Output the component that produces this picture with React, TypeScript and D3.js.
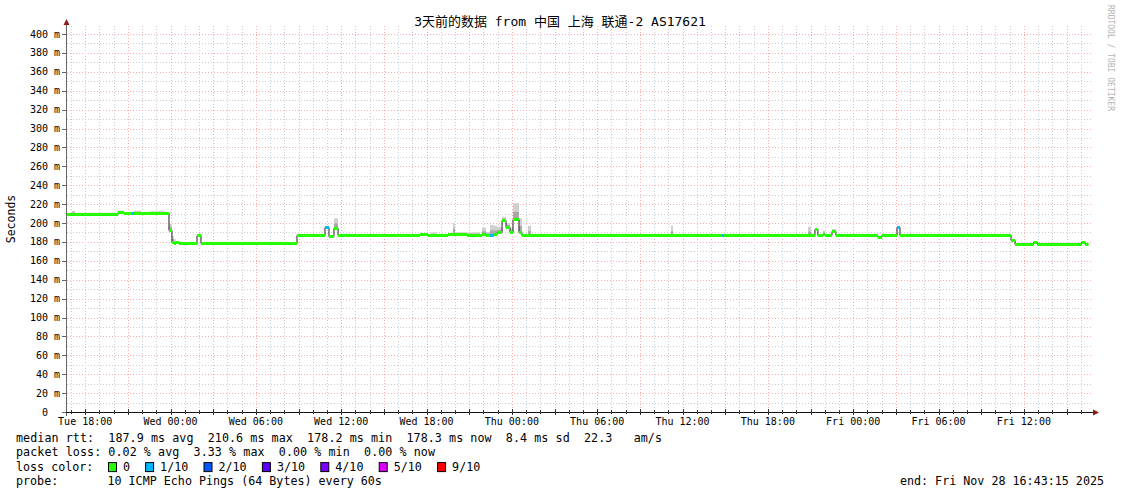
import React from "react";
import * as d3 from "d3";

// ---- data ----
const START = new Date(2025, 10, 25, 16, 43, 15);
const END = new Date(2025, 10, 28, 16, 43, 15);

// step start, in hours after START
const stepHours = [
  0.0, 0.35, 0.56, 3.59, 4.01, 4.57, 4.71, 5.2, 5.84, 6.89,
  7.17, 7.38, 7.52, 7.66, 7.88, 9.14, 9.42, 16.17, 18.14, 18.42,
  18.77, 19.06, 24.82, 25.38, 25.59, 26.02, 26.79, 27.14, 27.28, 28.13,
  29.04, 29.18, 29.46, 29.74, 30.02, 30.24, 30.59, 30.87, 31.15, 31.36,
  31.78, 31.99, 32.41, 32.63, 36.42, 36.56, 42.47, 42.61, 46.06, 46.2,
  52.1, 52.31, 52.59, 52.8, 53.15, 53.29, 53.79, 54.07, 57.02, 57.3,
  58.36, 58.57, 66.38, 66.66, 67.95, 68.23, 71.32, 71.6,
];
const lastHour = 71.82;

// median rtt in ms
const medianMs = [
  210.0, 210.0, 210.0, 211.2, 210.2, 210.2, 211.0, 211.0, 210.6, 210.6,
  193.0, 180.0, 178.5, 179.5, 178.6, 187.5, 178.6, 186.8, 195.4, 186.4,
  195.0, 186.8, 188.6, 186.8, 186.8, 186.8, 188.4, 188.4, 188.4, 187.6,
  187.0, 188.0, 187.5, 187.5, 188.0, 190.0, 203.0, 196.0, 190.0, 204.0,
  190.0, 186.8, 186.8, 186.8, 186.8, 186.8, 186.8, 186.8, 187.6, 186.8,
  186.8, 186.8, 193.6, 186.8, 188.8, 186.8, 192.0, 186.8, 185.6, 186.8,
  195.4, 186.8, 181.5, 178.3, 179.4, 178.3, 179.4, 178.3,
];

// packet loss (x/10)
const lossTenths = [
  0, 0, 0, 0, 0, 1, 0, 0, 0, 0,
  0, 0, 0, 0, 0, 0, 0, 0, 1, 0,
  0, 0, 0, 0, 0, 0, 0, 0, 0, 0,
  0, 0, 0, 1, 0, 0, 0, 0, 0, 0,
  0, 0, 0, 0, 0, 0, 0, 0, 1, 0,
  0, 0, 0, 0, 0, 0, 0, 0, 0, 0,
  1, 0, 0, 0, 0, 0, 0, 0,
];

// highest ping (smoke top) in ms
const smokeTopMs = [
  210.8, 212.7, 210.8, 213.0, 210.8, 211.0, 213.0, 211.6, 212.5, 211.2,
  199.0, 186.0, 183.0, 181.0, 179.4, 188.2, 179.3, 187.5, 196.0, 187.2,
  205.0, 187.5, 189.6, 187.5, 190.0, 187.5, 189.5, 200.0, 190.2, 190.0,
  188.0, 195.0, 190.5, 198.0, 197.0, 196.0, 206.5, 200.0, 195.0, 221.0,
  205.0, 187.5, 197.0, 187.5, 189.0, 187.5, 197.0, 187.5, 188.0, 187.5,
  196.0, 187.5, 194.5, 187.5, 192.0, 187.5, 193.5, 187.5, 186.5, 187.5,
  196.0, 187.5, 182.5, 179.0, 180.0, 179.0, 180.0, 179.0,
];

const lossLegendLabels = ["0", "1/10", "2/10", "3/10", "4/10", "5/10", "9/10"];
const lossLegendColors = ["#26ff00", "#00b8ff", "#0059ff", "#5e00ff", "#7e00ff", "#dd00ff", "#ff0000"];
const lossColorByTenths: Record<number, string> = {
  0: "#26ff00", 1: "#00b8ff", 2: "#0059ff", 3: "#5e00ff", 4: "#7e00ff", 5: "#dd00ff", 9: "#ff0000",
};

const yTickValues = d3.range(0, 401, 20);
const yMinorValues = d3.range(0, 401, 10);

const titleText = "3天前的数据 from 中国 上海 联通-2 AS17621";
const legendRows = [
  "median rtt:  187.9 ms avg  210.6 ms max  178.2 ms min  178.3 ms now  8.4 ms sd  22.3   am/s",
  "packet loss: 0.02 % avg  3.33 % max  0.00 % min  0.00 % now",
];
const probeText = "probe:       10 ICMP Echo Pings (64 Bytes) every 60s";
const endText = "end: Fri Nov 28 16:43:15 2025";

// ---- layout ----
const W = 1121;
const H = 494;
const X0 = 67;
const X1 = 1091;
const Y0 = 412;
const GRID_TOP = 26;
const MONO = "'DejaVu Sans Mono', 'Noto Sans CJK SC', monospace";
const LFS = 11.7;
const ROW_Y = [442, 456.3, 470.6, 484.9];
const ROW_LEN = [646, 419];

export default function App() {
  const hourToDate = (h: number) => new Date(START.getTime() + h * 3600 * 1000);
  const x = d3.scaleTime().domain([START, END]).range([X0, X1]);
  const y = d3.scaleLinear().domain([0, 400]).range([Y0, 34]);

  const segs = stepHours.map((h, i) => ({
    t0: hourToDate(h),
    t1: hourToDate(i + 1 < stepHours.length ? stepHours[i + 1] : lastHour),
    m: medianMs[i],
    loss: lossTenths[i],
    top: smokeTopMs[i],
  }));

  const linePts: [Date, number][] = segs.map((s) => [s.t0, s.m]);
  linePts.push([hourToDate(lastHour), medianMs[medianMs.length - 1]]);
  const medianLine = d3
    .line<[Date, number]>()
    .x((d) => x(d[0]))
    .y((d) => Math.round(y(d[1])) + 0.5)
    .curve(d3.curveStepAfter)(linePts) as string;

  const hourTicks = d3.timeHour.every(1)!.range(START, END);
  const majorX = hourTicks.filter((d) => d.getHours() % 3 === 0);
  const minorX = hourTicks.filter((d) => d.getHours() % 3 !== 0);
  const labelX = hourTicks.filter((d) => d.getHours() % 6 === 0);
  const fmt = d3.timeFormat("%a %H:%M");

  const px = (v: number) => Math.round(v) + 0.5;

  // loss legend layout
  let bx = 108;
  const legendItems = lossLegendLabels.map((lab, i) => {
    const item = { x: bx, lab, col: lossLegendColors[i] };
    bx = bx + 15 + lab.length * 7.1 + 15;
    return item;
  });

  return (
    <svg
      width={W}
      height={H}
      style={{ position: "absolute", left: 0, top: 0, background: "#fff" }}
      xmlns="http://www.w3.org/2000/svg"
    >
      <rect x={0} y={0} width={W} height={H} fill="#fff" />
      {/* minor grid */}
      {minorX.map((d, i) => (
        <line key={"mx" + i} x1={px(x(d))} x2={px(x(d))} y1={GRID_TOP} y2={Y0}
          stroke="#cccccc" strokeDasharray="1,2" />
      ))}
      {yMinorValues.filter((v) => v % 20 !== 0).map((v) => (
        <line key={"my" + v} x1={X0} x2={1093} y1={px(y(v))} y2={px(y(v))}
          stroke="#cccccc" strokeDasharray="1,2" />
      ))}
      {/* major grid */}
      {majorX.map((d, i) => (
        <line key={"Mx" + i} x1={px(x(d))} x2={px(x(d))} y1={GRID_TOP} y2={Y0}
          stroke="#ffacac" strokeDasharray="1,2" />
      ))}
      {yTickValues.filter((v) => v > 0).map((v) => (
        <line key={"My" + v} x1={X0} x2={1093} y1={px(y(v))} y2={px(y(v))}
          stroke="#ffacac" strokeDasharray="1,2" />
      ))}

      {/* smoke */}
      {segs.filter((s) => s.top - s.m > 0.6).map((s, i) => {
        const xa = x(s.t0);
        const xb = x(s.t1);
        const yt = y(s.top);
        const ym = y(s.m);
        const mid = y(s.m + (s.top - s.m) * 0.45);
        return (
          <g key={"sm" + i}>
            <rect x={xa} y={yt} width={xb - xa} height={ym - yt} fill="#d0d0d0" />
            <rect x={xa} y={mid} width={xb - xa} height={ym - mid} fill="#a8a8a8" />
          </g>
        );
      })}

      {/* median line */}
      <path d={medianLine} fill="none" stroke="#202020" strokeWidth={1} />
      {/* loss colored band */}
      {segs.map((s, i) => {
        const xa = x(s.t0);
        const xb = x(s.t1);
        return (
          <rect key={"b" + i} x={xa} y={Math.round(y(s.m)) - 1} width={xb - xa} height={3}
            fill={lossColorByTenths[s.loss]} />
        );
      })}

      {/* axes */}
      <line x1={66.5} x2={66.5} y1={22} y2={Y0 + 4} stroke="#666" />
      <line x1={62} x2={1094} y1={Y0 + 0.5} y2={Y0 + 0.5} stroke="#111" />
      <path d="M63.5,25 L69.5,25 L66.5,19 Z" fill="#8b1a1a" />
      <path d="M1093,409.5 L1093,415.5 L1099,412.5 Z" fill="#8b1a1a" />
      {yTickValues.map((v) => (
        <line key={"yt" + v} x1={62} x2={66} y1={px(y(v))} y2={px(y(v))} stroke="#666" />
      ))}
      {hourTicks.map((d, i) => {
        const major = d.getHours() % 3 === 0;
        return (
          <line key={"xt" + i} x1={px(x(d))} x2={px(x(d))} y1={Y0 - (major ? 3 : 2)} y2={Y0 + (major ? 3 : 2)}
            stroke="#333" />
        );
      })}

      {/* y labels */}
      {yTickValues.map((v) => (
        <text key={"yl" + v} x={v === 0 ? 48 : 60} y={y(v) + 3.5} textAnchor="end" fontFamily={MONO} fontSize={10} fill="#000">
          {v === 0 ? "0" : `${v} m`}
        </text>
      ))}
      {/* x labels */}
      {labelX.map((d, i) => (
        <text key={"xl" + i} x={x(d)} y={425} textAnchor="middle" fontFamily={MONO} fontSize={10} fill="#000">
          {fmt(d)}
        </text>
      ))}

      <text x={0} y={0} transform="translate(14.5,219) rotate(-90)" textAnchor="middle" fontFamily={MONO}
        fontSize={11.5} fill="#000">Seconds</text>

      <text x={560} y={26} textAnchor="middle" fontFamily={MONO} fontSize={13} fill="#000">{titleText}</text>

      <text x={0} y={0} transform="translate(1108,5) rotate(90)" fontFamily={MONO} fontSize={8} fill="#b4b4b4">
        RRDTOOL / TOBI OETIKER
      </text>

      {/* legend */}
      {legendRows.map((r, i) => (
        <text key={"lr" + i} x={16} y={ROW_Y[i]} fontFamily={MONO} fontSize={LFS} fill="#000"
          textLength={ROW_LEN[i]} lengthAdjust="spacing"
          style={{ whiteSpace: "pre" }}>{r}</text>
      ))}
      <text x={16} y={ROW_Y[2]} fontFamily={MONO} fontSize={LFS} fill="#000">loss color:</text>
      {legendItems.map((it, i) => (
        <g key={"li" + i}>
          <rect x={it.x + 0.5} y={ROW_Y[2] - 8} width={8} height={9} fill={it.col} stroke="#000" />
          <text x={it.x + 15} y={ROW_Y[2]} fontFamily={MONO} fontSize={LFS} fill="#000">{it.lab}</text>
        </g>
      ))}
      <text x={16} y={ROW_Y[3]} fontFamily={MONO} fontSize={LFS} fill="#000" style={{ whiteSpace: "pre" }}>
        {probeText}
      </text>
      <text x={1104} y={ROW_Y[3]} textAnchor="end" fontFamily={MONO} fontSize={LFS} fill="#000">{endText}</text>
    </svg>
  );
}
